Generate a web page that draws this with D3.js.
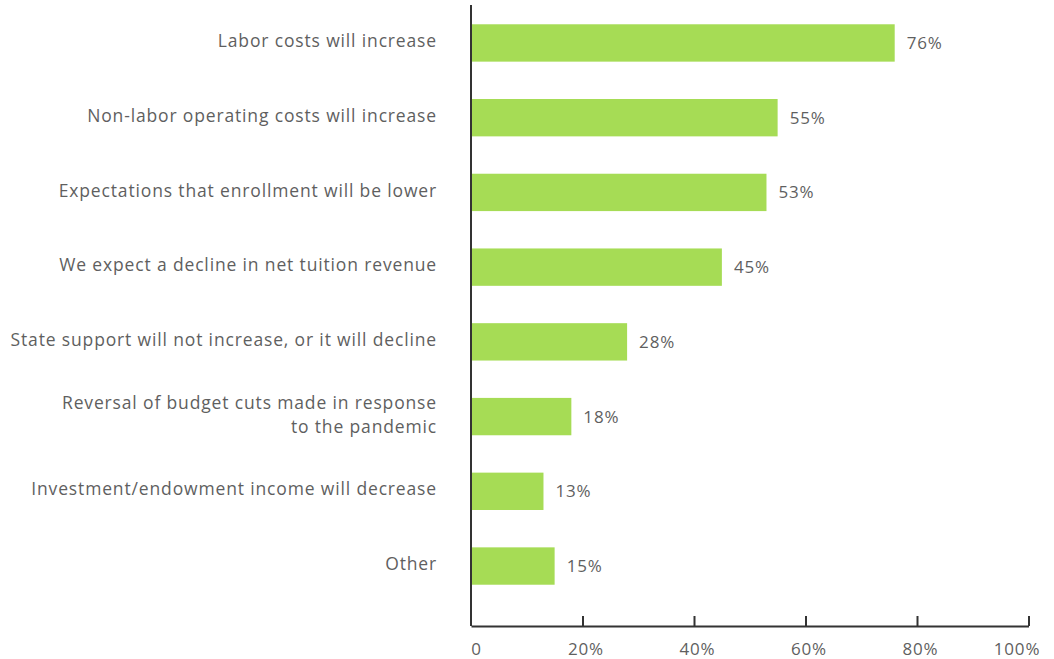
<!DOCTYPE html>
<html>
<head>
<meta charset="utf-8">
<script src="https://cdn.jsdelivr.net/npm/d3@7"></script>
<style>
  html, body { margin: 0; padding: 0; background: #fff; }
  svg { display: block; }
  text { font-family: "Open Sans", "DejaVu Sans", sans-serif; fill: #5f5f5f; letter-spacing: 0.85px; }
</style>
</head>
<body>
<svg id="chart" width="1054" height="659"></svg>
<script>
// Reasons cited for budget pressure (share of respondents)
const categories = [
  ["Labor costs will increase"],
  ["Non-labor operating costs will increase"],
  ["Expectations that enrollment will be lower"],
  ["We expect a decline in net tuition revenue"],
  ["State support will not increase, or it will decline"],
  ["Reversal of budget cuts made in response", "to the pandemic"],
  ["Investment/endowment income will decrease"],
  ["Other"]
];
const values = [76, 55, 53, 45, 28, 18, 13, 15];
const tickValues = [0, 20, 40, 60, 80, 100];
const tickLabels = ["0", "20%", "40%", "60%", "80%", "100%"];

const svg = d3.select("#chart");
const x0 = 471, x1 = 1028.5, axisY = 626, axisTop = 5;

const x = d3.scaleLinear().domain([0, 100]).range([x0, x1]);
const y = d3.scaleBand()
  .domain(d3.range(categories.length))
  .range([5.6, 603.4])
  .paddingInner(0.5)
  .paddingOuter(0.25);

// bars
svg.append("g").selectAll("rect")
  .data(values)
  .join("rect")
  .attr("x", x(0) + 1)
  .attr("y", (d, i) => y(i))
  .attr("width", d => x(d) - x(0) - 1)
  .attr("height", y.bandwidth())
  .attr("fill", "#a6dc55");

// value labels
svg.append("g").selectAll("text")
  .data(values)
  .join("text")
  .attr("x", d => x(d) + 12)
  .attr("y", (d, i) => y(i) + y.bandwidth() / 2)
  .attr("dy", "0.35em")
  .attr("font-size", 17)
  .text(d => d + "%");

// category labels, right-aligned against the axis
const lineGap = 24;
const lab = svg.append("g").selectAll("text")
  .data(categories)
  .join("text")
  .attr("x", 437)
  .attr("y", (d, i) => y(i) + y.bandwidth() / 2 - 2 - (d.length - 1) * lineGap / 2)
  .attr("text-anchor", "end")
  .attr("font-size", 17.5);
lab.selectAll("tspan")
  .data(d => d)
  .join("tspan")
  .attr("x", 437)
  .attr("dy", (d, j) => j === 0 ? "0.35em" : lineGap)
  .text(d => d);

// y axis line
svg.append("line")
  .attr("x1", x0).attr("x2", x0)
  .attr("y1", axisTop).attr("y2", axisY)
  .attr("stroke", "#333").attr("stroke-width", 2);

// x axis with ticks pointing up
const xAxis = d3.axisBottom(x)
  .tickValues(tickValues)
  .tickFormat((d, i) => tickLabels[i])
  .tickSizeInner(-10)
  .tickSizeOuter(0)
  .tickPadding(17);
const gx = svg.append("g")
  .attr("transform", `translate(0,${axisY})`)
  .call(xAxis);
gx.select(".domain").attr("stroke", "#333").attr("stroke-width", 2);
gx.selectAll(".tick line").attr("stroke", "#333").attr("stroke-width", 2)
  .filter(d => d === 0).remove();
gx.selectAll(".tick text")
  .attr("font-size", 17)
  .attr("font-family", "\"Open Sans\", \"DejaVu Sans\", sans-serif")
  .attr("fill", "#8a8a8a")
  .attr("dx", d => d === 0 ? 5 : d === 100 ? -12 : 3);
</script>
</body>
</html>
